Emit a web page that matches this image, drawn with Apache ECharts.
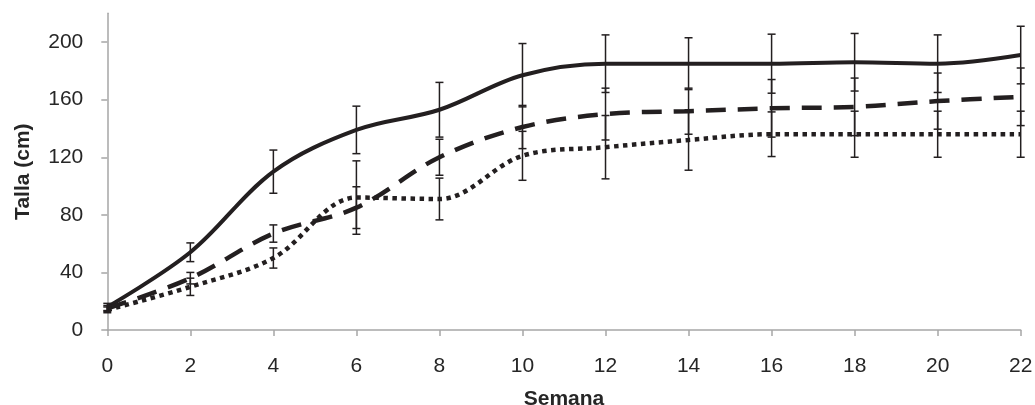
<!DOCTYPE html>
<html>
<head>
<meta charset="utf-8">
<script src="https://cdn.jsdelivr.net/npm/echarts@6/dist/echarts.min.js"></script>
<style>html,body{margin:0;padding:0;background:#fff}#c{width:1035px;height:405px}</style>
</head>
<body>
<div id="c"></div>
<script>
const weeks = [0, 2, 4, 6, 8, 10, 12, 14, 16, 18, 20, 22];
const solidMean = [16, 54, 110, 139, 153, 177, 185, 185, 185, 186, 185, 191];
const solidErr = [2.5, 6.5, 15, 16.5, 19, 22, 20, 18, 20.5, 20, 20, 20];
const dashedMean = [15, 36, 67, 85, 120, 141, 150, 152, 154, 155, 159, 162];
const dashedErr = [2, 4, 6, 14.5, 12.5, 15, 18, 16, 20, 20, 19.5, 20];
const dottedMean = [14, 30, 50, 92, 91, 121, 127, 132, 136, 136, 136, 136];
const dottedErr = [2, 6, 7, 25.5, 14.5, 17, 22, 21, 15.5, 16, 16, 16];
const yTicks = [0, 40, 80, 120, 160, 200];
const xTicks = [0, 2, 4, 6, 8, 10, 12, 14, 16, 18, 20, 22];

const ink = '#231f20';
const font = '"Liberation Sans", Arial, sans-serif';

function pts(mean) { return weeks.map((w, i) => [w, mean[i]]); }
function bars(mean, err) { return weeks.map((w, i) => [w, mean[i] - err[i], mean[i] + err[i]]); }

function renderErr(params, api) {
  const x = api.value(0);
  const lo = api.coord([x, api.value(1)]);
  const hi = api.coord([x, api.value(2)]);
  const hw = 4;
  const st = { stroke: ink, lineWidth: 1.5 };
  return {
    type: 'group',
    children: [
      { type: 'line', shape: { x1: lo[0], y1: lo[1], x2: hi[0], y2: hi[1] }, style: st },
      { type: 'line', shape: { x1: lo[0] - hw, y1: lo[1], x2: lo[0] + hw, y2: lo[1] }, style: st },
      { type: 'line', shape: { x1: hi[0] - hw, y1: hi[1], x2: hi[0] + hw, y2: hi[1] }, style: st }
    ]
  };
}

function lineSeries(mean, type, width) {
  return {
    type: 'line', data: pts(mean), smooth: 0.35, showSymbol: false, z: 2,
    lineStyle: { color: ink, width: width, type: type, cap: 'butt' }
  };
}
function errSeries(mean, err) {
  return { type: 'custom', data: bars(mean, err), renderItem: renderErr, encode: { x: 0, y: [1, 2] }, z: 3 };
}

const chart = echarts.init(document.getElementById('c'), null, { renderer: 'canvas' });
chart.setOption({
  animation: false,
  backgroundColor: '#fff',
  grid: { left: 107.3, right: 14.3, top: 13.3, bottom: 75, containLabel: false, outerBoundsMode: 'none' },
  xAxis: {
    type: 'value', min: 0, max: 22, interval: 2,
    name: 'Semana', nameLocation: 'middle', nameGap: 59,
    nameTextStyle: { fontFamily: font, fontWeight: 'bold', fontSize: 21, color: '#262626' },
    axisLine: { show: true, lineStyle: { color: '#a6a6a6', width: 1.5 } },
    axisTick: { show: true, length: 6, lineStyle: { color: '#a6a6a6', width: 1.5 }, customValues: xTicks },
    axisLabel: { fontFamily: font, fontSize: 21, color: '#262626', margin: 26, customValues: xTicks },
    splitLine: { show: false }
  },
  yAxis: {
    type: 'value', min: 0, max: 220,
    name: 'Talla (cm)', nameLocation: 'middle', nameGap: 74, nameRotate: 90,
    nameTextStyle: { fontFamily: font, fontWeight: 'bold', fontSize: 21, color: '#262626' },
    axisLine: { show: true, lineStyle: { color: '#a6a6a6', width: 1.5 } },
    axisTick: { show: true, length: 6, lineStyle: { color: '#a6a6a6', width: 1.5 }, customValues: yTicks },
    axisLabel: { fontFamily: font, fontSize: 21, color: '#262626', margin: 24, customValues: yTicks },
    splitLine: { show: false }
  },
  series: [
    lineSeries(solidMean, 'solid', 4),
    lineSeries(dashedMean, [20, 12], 4.5),
    lineSeries(dottedMean, [4.5, 4.5], 4.5),
    errSeries(solidMean, solidErr),
    errSeries(dashedMean, dashedErr),
    errSeries(dottedMean, dottedErr)
  ]
});
</script>
</body>
</html>
